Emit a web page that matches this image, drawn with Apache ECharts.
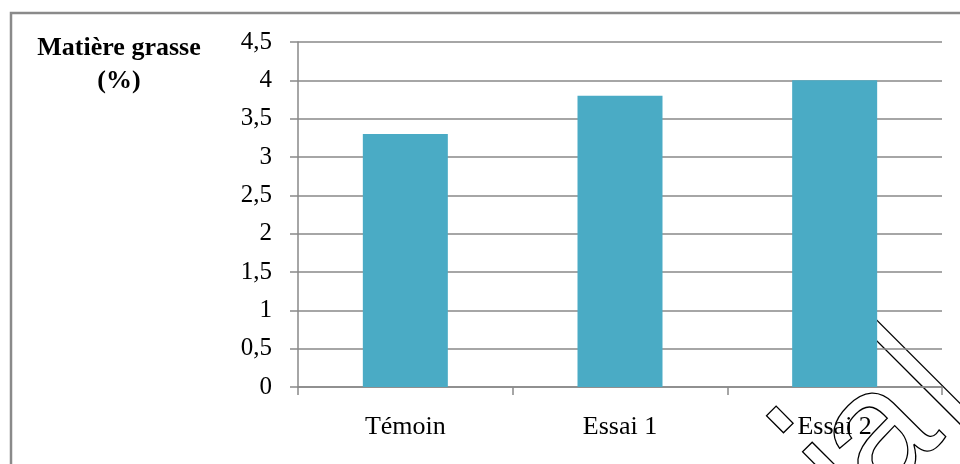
<!DOCTYPE html>
<html>
<head>
<meta charset="utf-8">
<script src="https://cdn.jsdelivr.net/npm/echarts@6/dist/echarts.min.js"></script>
<style>
  html, body { margin: 0; padding: 0; background: #fff; }
  #chart { width: 960px; height: 464px; }
</style>
</head>
<body>
<div id="chart"></div>
<script>
// Fat content per sample
const categories = ['Témoin', 'Essai 1', 'Essai 2'];
const fatValues = [3.3, 3.8, 4.0];
const yTicks = [0, 0.5, 1, 1.5, 2, 2.5, 3, 3.5, 4, 4.5];
const titleLines = ['Matière grasse', '(%)'];

const chart = echarts.init(document.getElementById('chart'));
const serif = '"Liberation Serif", "Times New Roman", serif';
const gray = '#898989';

// Outlined lettering running diagonally across the lower right corner.
// Drawn in a frame turned 45 degrees: local x runs up-right, local y down-right.
const outline = { fill: 'none', stroke: '#000', lineWidth: 1.3 };
const stampGroup = {
  type: 'group', x: 0, y: 0, rotation: Math.PI / 4, z: 20, silent: true,
  children: [
    { type: 'rect', shape: { x: 248, y: 836, width: 13.6, height: 24 }, style: outline },   // dot of i
    { type: 'rect', shape: { x: 248, y: 887, width: 13.6, height: 110 }, style: outline },  // stem of i
    { type: 'rect', shape: { x: 379, y: 835, width: 14.6, height: 160 }, style: outline },  // stem of l
    {
      type: 'text', x: 265.5, y: 931,
      style: {
        text: 'a', font: '170px "Liberation Sans", Arial, sans-serif',
        fill: 'none', stroke: '#000', lineWidth: 1.3,
        align: 'left', verticalAlign: 'middle'
      }
    }
  ]
};

chart.setOption({
  animation: false,
  backgroundColor: '#fff',
  grid: { left: 298, right: 18, top: 42, bottom: 77, containLabel: false },
  xAxis: {
    type: 'category',
    data: categories,
    axisLine: { lineStyle: { color: gray, width: 1.5 } },
    axisTick: { show: true, length: 8, lineStyle: { color: gray, width: 1.5 } },
    axisLabel: { color: '#000', fontFamily: serif, fontSize: 26, margin: 27 }
  },
  yAxis: {
    type: 'value',
    min: yTicks[0],
    max: yTicks[yTicks.length - 1],
    interval: 0.5,
    axisLine: { show: true, lineStyle: { color: gray, width: 1.5 } },
    axisTick: { show: true, length: 8, lineStyle: { color: gray, width: 1.5 } },
    splitLine: { lineStyle: { color: gray, width: 1.5 } },
    axisLabel: {
      color: '#000', fontFamily: serif, fontSize: 25, margin: 26,
      formatter: v => String(v).replace('.', ',')
    }
  },
  series: [{
    type: 'bar',
    data: fatValues,
    barWidth: 85,
    itemStyle: { color: '#4aabc5' },
    z: 3
  }],
  graphic: [
    {
      type: 'rect', silent: true, z: 0,
      shape: { x: 11, y: 13, width: 1000, height: 500 },
      style: { fill: 'none', stroke: '#8a8a8a', lineWidth: 2.5 }
    },
    {
      type: 'text', x: 119, y: 48.5, z: 10,
      style: { text: titleLines[0], font: 'bold 26px ' + serif, fill: '#000', align: 'center', verticalAlign: 'middle' }
    },
    {
      type: 'text', x: 119, y: 81, z: 10,
      style: { text: titleLines[1], font: 'bold 26px ' + serif, fill: '#000', align: 'center', verticalAlign: 'middle' }
    },
    stampGroup
  ]
});
</script>
</body>
</html>
